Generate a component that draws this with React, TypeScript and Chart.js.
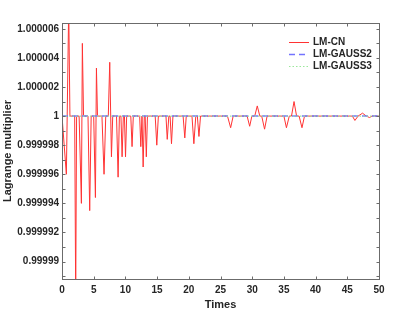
import React, { useEffect, useRef } from 'react';
import { Chart, registerables } from 'chart.js';
Chart.register(...registerables);

// LM-CN series (time, multiplier)
const cnTimes = [
  0, 0.69, 1.06, 1.25, 2.0, 2.16, 2.3, 2.7, 3.06, 3.21, 3.4, 4.1, 4.37, 4.6,
  5.0, 5.27, 5.43, 5.6, 6.3, 6.63, 6.9, 7.3, 7.53, 7.8, 8.0, 8.6, 8.85, 9.05,
  9.3, 9.48, 9.68, 9.85, 10.02, 10.2, 10.85, 11.05, 11.25, 12.25, 12.43, 12.62,
  12.8, 12.98, 13.12, 13.3, 13.48, 14.7, 14.95, 15.2, 16.4, 16.6, 16.85, 17.05,
  17.27, 17.5, 19.1, 19.37, 19.6, 20.5, 20.8, 21.1, 21.35, 21.6, 21.85, 26.1,
  26.6, 27.0, 29.2, 29.6, 29.95, 30.4, 30.8, 31.2, 31.5, 31.95, 32.35, 35.0,
  35.4, 35.85, 36.2, 36.6, 37.0, 37.4, 37.85, 38.25, 45.8, 46.2, 46.7, 47.4,
  48.0, 48.5, 48.9, 50,
];
const cnValues = [
  1, 0.999996, 1.0000075, 1, 1, 0.9999875, 1, 1, 0.999994, 1.000005, 1, 1, 0.9999935, 1,
  1, 0.9999944, 1.0000033, 1, 1, 0.999996, 1, 1, 1.0000037, 0.9999972, 1, 1, 0.9999958, 1,
  1, 0.9999972, 1, 1, 0.9999972, 1, 1, 0.9999979, 1, 1, 0.9999979, 1,
  0.9999965, 1, 1, 0.9999972, 1, 1, 0.999998, 1, 1, 0.9999984, 1, 1,
  0.9999981, 1, 1, 0.9999985, 1, 1, 0.9999981, 1, 1, 0.9999986, 1, 1,
  0.9999992, 1, 1, 0.9999993, 1, 1, 1.0000007, 1, 1, 0.9999991, 1, 1,
  0.9999992, 1, 1, 1.000001, 1, 1, 0.9999992, 1, 1, 0.9999997, 1, 1.0000002,
  1, 0.9999999, 1, 1,
];
// LM-GAUSS2 / LM-GAUSS3 series
const gaussTimes = [0, 50];
const gauss2Values = [1, 1];
const gauss3Values = [1, 1];

const seriesLabels = ['LM-CN', 'LM-GAUSS2', 'LM-GAUSS3'];

// axes
const xMin = 0;
const xMax = 50;
const yMin = 0.9999888;
const yMax = 1.0000064;
const xTickValues = [0, 5, 10, 15, 20, 25, 30, 35, 40, 45, 50];
const yTickValues = [0.99999, 0.999992, 0.999994, 0.999996, 0.999998, 1, 1.000002, 1.000004, 1.000006];
const yTickLabels = ['0.99999', '0.999992', '0.999994', '0.999996', '0.999998', '1', '1.000002', '1.000004', '1.000006'];
const yMinorTickValues = [
  0.999989, 0.99999, 0.999991, 0.999992, 0.999993, 0.999994, 0.999995, 0.999996, 0.999997,
  0.999998, 0.999999, 1, 1.000001, 1.000002, 1.000003, 1.000004, 1.000005, 1.000006,
];

const FONT = "'Liberation Sans', Arial, Helvetica, sans-serif";
const TEXT = '#262626';
const FRAME = '#6b6b6b';

const framePlugin = {
  id: 'frameAndLegend',
  afterDatasetsDraw(chart: any) {
    const { ctx, chartArea, scales } = chart;
    const { left, right, top, bottom } = chartArea;
    const xs = scales.x;
    const ys = scales.y;
    ctx.save();
    ctx.strokeStyle = FRAME;
    ctx.lineWidth = 1;
    ctx.setLineDash([]);
    const L = Math.round(left) + 0.5;
    const R = Math.round(right) + 0.5;
    const T = Math.round(top) + 0.5;
    const B = Math.round(bottom) + 0.5;
    ctx.strokeRect(L, T, R - L, B - T);
    ctx.beginPath();
    for (const v of xTickValues) {
      const px = Math.round(xs.getPixelForValue(v)) + 0.5;
      ctx.moveTo(px, B);
      ctx.lineTo(px, B - 3);
      ctx.moveTo(px, T);
      ctx.lineTo(px, T + 3);
    }
    for (const v of yMinorTickValues) {
      const py = Math.round(ys.getPixelForValue(v)) + 0.5;
      if (py < T || py > B) continue;
      ctx.moveTo(L, py);
      ctx.lineTo(L + 3, py);
      ctx.moveTo(R, py);
      ctx.lineTo(R - 3, py);
    }
    ctx.stroke();

    // legend
    const ds = chart.data.datasets;
    const sx0 = right - 90;
    const sx1 = right - 70;
    const tx = right - 66;
    const rows = [top + 19, top + 31, top + 43];
    ctx.font = `bold 10px ${FONT}`;
    ctx.textBaseline = 'middle';
    ctx.textAlign = 'left';
    for (let i = 0; i < 3; i++) {
      const d = ds[i];
      const y = Math.round(rows[i]) + 0.5;
      ctx.strokeStyle = d.borderColor;
      ctx.lineWidth = d.borderWidth;
      ctx.setLineDash(d.borderDash || []);
      ctx.beginPath();
      ctx.moveTo(sx0, y);
      ctx.lineTo(sx1, y);
      ctx.stroke();
      ctx.fillStyle = TEXT;
      ctx.fillText(seriesLabels[i], tx, y);
    }
    ctx.restore();
  },
};

export default function App() {
  const ref = useRef<HTMLCanvasElement>(null);
  useEffect(() => {
    document.body.style.margin = '0';
    const chart = new Chart(ref.current as HTMLCanvasElement, {
      type: 'line',
      data: {
        datasets: [
          {
            label: seriesLabels[0],
            data: cnTimes.map((t, i) => ({ x: t, y: cnValues[i] })),
            borderColor: '#ff3333',
            borderWidth: 1,
            pointRadius: 0,
            tension: 0,
            order: 3,
          },
          {
            label: seriesLabels[1],
            data: gaussTimes.map((t, i) => ({ x: t, y: gauss2Values[i] })),
            borderColor: '#7373ff',
            borderWidth: 1.5,
            borderDash: [6, 4],
            pointRadius: 0,
            tension: 0,
            order: 2,
          },
          {
            label: seriesLabels[2],
            data: gaussTimes.map((t, i) => ({ x: t, y: gauss3Values[i] })),
            borderColor: '#9be89b',
            borderWidth: 1.2,
            borderDash: [1.5, 2],
            pointRadius: 0,
            tension: 0,
            order: 1,
          },
        ],
      },
      options: {
        responsive: false,
        animation: false,
        devicePixelRatio: 1,
        layout: { padding: { left: 0, top: 23, right: 40, bottom: 0 } },
        plugins: { legend: { display: false }, tooltip: { enabled: false } },
        scales: {
          x: {
            type: 'linear',
            min: xMin,
            max: xMax,
            grid: { display: false, drawTicks: false },
            border: { display: false },
            afterFit: (s: any) => { s.height = 35; },
            afterBuildTicks: (s: any) => { s.ticks = xTickValues.map((v) => ({ value: v })); },
            ticks: {
              autoSkip: false,
              maxRotation: 0,
              padding: 5,
              color: TEXT,
              font: { family: FONT, size: 10, weight: 'bold' },
              callback: (v: any) => String(v),
            },
            title: {
              display: true,
              text: 'Times',
              color: TEXT,
              font: { family: FONT, size: 11, weight: 'bold' },
              padding: { top: 0, bottom: 2 },
            },
          },
          y: {
            type: 'linear',
            min: yMin,
            max: yMax,
            grid: { display: false, drawTicks: false },
            border: { display: false },
            afterFit: (s: any) => { s.width = 62; },
            afterBuildTicks: (s: any) => { s.ticks = yTickValues.map((v) => ({ value: v })); },
            ticks: {
              autoSkip: false,
              padding: 3,
              color: TEXT,
              font: { family: FONT, size: 10, weight: 'bold' },
              callback: (_v: any, i: number) => yTickLabels[i],
            },
            title: {
              display: true,
              text: 'Lagrange multiplier',
              color: TEXT,
              font: { family: FONT, size: 11, weight: 'bold' },
              padding: { top: 1.4, bottom: 0 },
            },
          },
        },
      },
      plugins: [framePlugin],
    } as any);
    return () => chart.destroy();
  }, []);
  return (
    <div style={{ position: 'absolute', left: 0, top: 0, width: 419, height: 314, background: '#fff' }}>
      <canvas ref={ref} width={419} height={314} style={{ display: 'block', width: 419, height: 314 }} />
    </div>
  );
}
